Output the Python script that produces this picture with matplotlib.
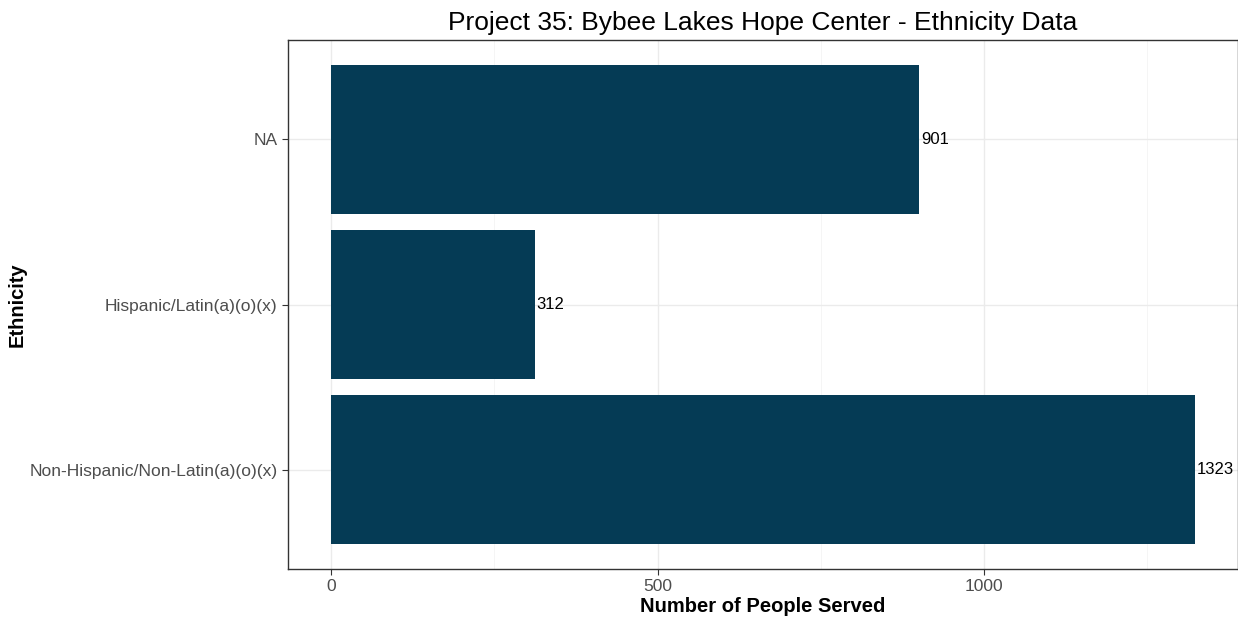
import matplotlib
matplotlib.use("Agg")
import matplotlib.pyplot as plt
from matplotlib.ticker import MultipleLocator

# data (bottom to top)
categories = ["Non-Hispanic/Non-Latin(a)(o)(x)", "Hispanic/Latin(a)(o)(x)", "NA"]
counts = [1323, 312, 901]

plt.rcParams["font.family"] = ["Liberation Sans", "DejaVu Sans"]

fig = plt.figure(figsize=(12.38, 6.18), dpi=100)
ax = fig.add_axes([288 / 1238, 1 - 569 / 618, 950 / 1238, 529 / 618])

ypos = list(range(1, len(categories) + 1))
ax.barh(ypos, counts, height=0.9, color="#053B55", zorder=3)
for y, v in zip(ypos, counts):
    ax.text(v + 3, y, str(v), va="center", ha="left", fontsize=12, color="black", zorder=4)

span = max(counts)
ax.set_xlim(-0.05 * span, span * 1.05)
ax.set_ylim(0.4, len(categories) + 0.6)
ax.set_yticks(ypos)
ax.set_yticklabels(categories)
ax.xaxis.set_major_locator(MultipleLocator(500))
ax.xaxis.set_minor_locator(MultipleLocator(250))

ax.grid(True, which="major", color="#EBEBEB", linewidth=1.0, zorder=0)
ax.grid(True, which="minor", axis="x", color="#F4F4F4", linewidth=0.6, zorder=0)
ax.tick_params(axis="both", which="major", colors="#333333", labelcolor="#4D4D4D",
               labelsize=12.5, length=4, width=0.8)
ax.tick_params(axis="x", which="minor", length=0)

for side in ["left", "bottom", "top", "right"]:
    ax.spines[side].set_color("#333333")
    ax.spines[side].set_linewidth(1.0)

ax.set_xlabel("Number of People Served", fontsize=14.5, fontweight="bold", labelpad=2)
ax.set_ylabel("Ethnicity", fontsize=14.5, fontweight="bold")
# put the y label where ggplot had it, near the left edge of the figure
ax.yaxis.set_label_coords(-261 / 950, 0.5)
ax.set_title("Project 35: Bybee Lakes Hope Center - Ethnicity Data", fontsize=19, pad=7)

fig.savefig("out.png", dpi=100)
